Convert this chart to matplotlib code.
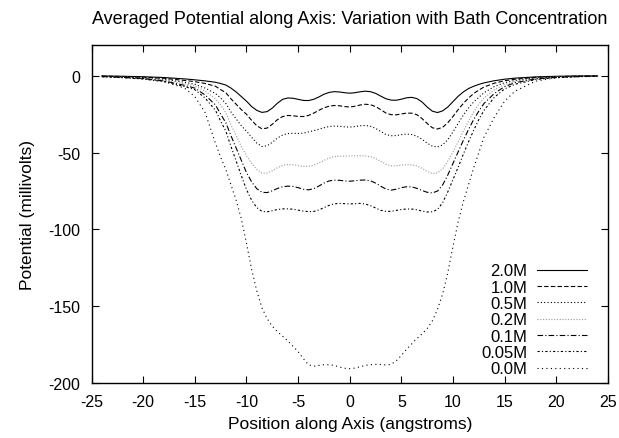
import matplotlib
matplotlib.use("Agg")
import matplotlib.pyplot as plt

plt.rcParams['font.family'] = ['Liberation Sans', 'DejaVu Sans']
plt.rcParams['axes.unicode_minus'] = False

# positions along the axis (angstroms) where the curves were read
position = [-24, -22, -20, -18, -16, -15, -14, -13,
            -12.5, -12, -11.5, -11, -10.5, -10, -9.5, -9, -8.5, -8, -7.5, -7, -6.5, -6, -5.5, -5,
            -4.5, -4, -3.5, -3, -2.5, -2, -1.5, -1, -0.5, 0, 0.5, 1, 1.5, 2, 2.5, 3,
            3.5, 4, 4.5, 5, 5.5, 6, 6.5, 7, 7.5, 8, 8.5, 9, 9.5, 10, 10.5, 11, 11.5, 12, 12.5,
            13, 14, 15, 16, 18, 20, 22, 24]

# averaged potential (millivolts) for each bath concentration
pot_2_0M = [-0.1, -0.3, -0.6, -1.1, -2.0, -2.6, -3.3, -4.2,
            -5.0, -6.0, -8.0, -10.5, -13.5, -16.5, -20.0, -22.5, -23.8, -23.3, -21.0, -17.8, -15.3, -14.4, -14.6, -15.3,
            -16.0, -16.1, -15.3, -13.8, -12.0, -10.8, -10.3, -10.5, -11.0, -11.3, -11.0, -10.4, -10.0, -10.3, -11.4, -13.2,
            -14.9, -15.8, -15.9, -15.2, -14.3, -14.0, -14.8, -17.0, -20.3, -23.0, -23.9, -22.8, -20.3, -16.8, -13.3, -10.5, -8.3, -6.8, -5.6,
            -4.6, -3.2, -2.2, -1.5, -0.7, -0.3, -0.1, -0.05]
pot_1_0M = [-0.2, -0.4, -0.9, -1.6, -3.0, -3.8, -5.0, -6.8,
            -9.0, -11.0, -15.0, -18.5, -22.0, -25.0, -29.0, -32.5, -34.5, -34.0, -31.5, -28.5, -26.5, -25.8, -26.0, -26.4,
            -26.5, -25.8, -24.3, -22.5, -20.8, -19.8, -19.3, -19.5, -20.0, -20.3, -19.8, -19.0, -18.5, -18.8, -20.0, -22.0,
            -24.2, -25.3, -25.4, -24.8, -24.3, -24.3, -25.3, -27.8, -31.0, -33.8, -34.6, -33.5, -30.5, -26.5, -22.0, -18.0, -14.5, -11.5, -9.3,
            -7.3, -4.8, -3.2, -2.2, -1.0, -0.5, -0.2, -0.1]
pot_0_5M = [-0.3, -0.6, -1.2, -2.2, -4.2, -5.5, -8.0, -11.5,
            -14.5, -18.0, -23.5, -28.0, -32.5, -36.0, -40.0, -43.8, -46.0, -45.5, -43.3, -40.5, -38.5, -37.6, -37.4, -37.5,
            -37.3, -36.5, -35.7, -34.8, -33.8, -33.0, -32.7, -32.8, -33.2, -33.4, -33.0, -32.5, -32.3, -32.8, -34.2, -36.2,
            -38.2, -39.0, -38.9, -38.3, -37.9, -38.2, -39.3, -41.3, -43.8, -45.8, -46.3, -45.0, -41.5, -36.5, -31.0, -25.5, -21.0, -17.0, -14.0,
            -11.0, -7.0, -4.5, -3.0, -1.4, -0.7, -0.3, -0.1]
pot_0_2M = [-0.4, -0.8, -1.5, -2.8, -5.2, -6.5, -10.0, -15.0,
            -19.0, -24.0, -32.0, -39.0, -46.0, -52.0, -57.0, -61.0, -63.3, -63.3, -61.8, -59.8, -58.3, -57.8, -57.9, -58.4,
            -58.9, -58.9, -58.2, -56.8, -55.0, -53.5, -52.6, -52.3, -52.3, -52.2, -52.0, -52.0, -52.2, -52.6, -53.8, -55.6,
            -57.6, -58.6, -58.6, -58.1, -57.8, -57.9, -58.6, -60.2, -62.2, -63.6, -63.2, -60.5, -55.5, -49.5, -43.0, -36.0, -29.5, -23.5, -18.5,
            -14.5, -9.0, -5.7, -3.7, -1.7, -0.8, -0.4, -0.2]
pot_0_1M = [-0.5, -1.0, -1.8, -3.3, -6.2, -8.0, -12.5, -19.0,
            -25.0, -30.5, -39.0, -47.0, -55.0, -63.0, -69.0, -73.5, -75.8, -76.0, -74.8, -73.3, -72.2, -71.8, -72.0, -72.8,
            -73.8, -74.2, -73.5, -71.8, -69.8, -68.4, -67.9, -68.0, -68.4, -68.6, -68.3, -67.9, -67.8, -68.3, -69.8, -71.8,
            -73.7, -74.4, -73.8, -72.8, -72.2, -72.3, -73.2, -74.6, -75.8, -76.2, -75.0, -71.0, -64.5, -57.0, -49.5, -42.0, -35.0, -28.5, -23.0,
            -18.0, -11.5, -7.0, -4.5, -2.0, -1.0, -0.5, -0.2]
pot_0_05M = [-0.6, -1.2, -2.1, -3.8, -7.0, -9.0, -14.5, -22.5,
             -29.5, -36.0, -46.0, -55.5, -65.0, -74.0, -81.0, -85.8, -88.2, -88.5, -87.8, -87.0, -86.6, -86.6, -86.8, -87.4,
             -88.0, -88.4, -88.3, -87.3, -85.8, -84.3, -83.3, -83.0, -83.2, -83.4, -83.2, -83.0, -83.4, -84.5, -86.0, -87.5,
             -88.2, -88.2, -87.6, -87.0, -86.7, -86.7, -87.2, -88.0, -88.6, -88.5, -87.0, -82.5, -75.5, -67.5, -59.5, -51.0, -43.0, -35.5, -28.5,
             -22.5, -14.0, -8.5, -5.5, -2.4, -1.2, -0.6, -0.3]
pot_0_0M = [-0.3, -0.8, -1.8, -3.5, -8.0, -13.5, -24.0, -44.0,
            -53.0, -61.0, -71.0, -81.0, -93.0, -109.0, -126.0, -140.0, -151.0, -158.0, -163.0, -166.5, -169.5, -172.5, -176.0, -179.5,
            -184.0, -188.0, -189.0, -188.5, -188.0, -188.0, -188.5, -189.5, -190.3, -190.6, -190.2, -189.3, -188.5, -188.0, -187.8, -187.9,
            -188.2, -187.8, -185.5, -182.0, -178.0, -174.5, -171.0, -168.0, -164.5, -159.5, -152.0, -142.0, -128.0, -111.0, -95.0, -82.0, -71.0, -60.0, -50.0,
            -40.0, -27.0, -16.5, -10.0, -3.5, -1.2, -0.5, -0.2]

labels = ['2.0M', '1.0M', '0.5M', '0.2M', '0.1M', '0.05M', '0.0M']
series = [pot_2_0M, pot_1_0M, pot_0_5M, pot_0_2M, pot_0_1M, pot_0_05M, pot_0_0M]
styles = [
    ('black', '-'),
    ('black', (0, (4, 2))),
    ('black', (0, (1, 2))),
    ('#9a9a9a', (0, (1, 1.5))),
    ('black', (0, (5, 2, 1, 2))),
    ('black', (0, (2, 2, 1, 2))),
    ('black', (0, (1, 3))),
]

fig = plt.figure(figsize=(6.19, 4.39), dpi=100)
ax = fig.add_axes([0.148, 0.125, 0.834, 0.770])

for vals, lab, (col, ls) in zip(series, labels, styles):
    ax.plot(position, vals, color=col, linestyle=ls, linewidth=0.8, label=lab)

ax.set_xlim(-25, 25)
ax.set_ylim(-200, 20)
ax.set_xticks(range(-25, 26, 5))
ax.set_yticks(range(-200, 1, 50))
ax.tick_params(direction='in', length=5, top=True, right=True, labelsize=11.5)
ax.tick_params(axis='x', pad=8)
ax.tick_params(axis='y', pad=8)
for sp in ax.spines.values():
    sp.set_linewidth(1.0)

ax.set_title('Averaged Potential along Axis: Variation with Bath Concentration',
             fontsize=13, pad=16)
ax.set_xlabel('Position along Axis (angstroms)', fontsize=12.5, labelpad=5)
ax.set_ylabel('Potential (millivolts)', fontsize=12.5, labelpad=10)

ax.legend(loc='lower right', bbox_to_anchor=(0.96, 0.02), markerfirst=False,
          frameon=False, fontsize=12, handlelength=3.0, handletextpad=0.6,
          labelspacing=0.08, borderpad=0, borderaxespad=0)

fig.savefig('out.png', dpi=100)
